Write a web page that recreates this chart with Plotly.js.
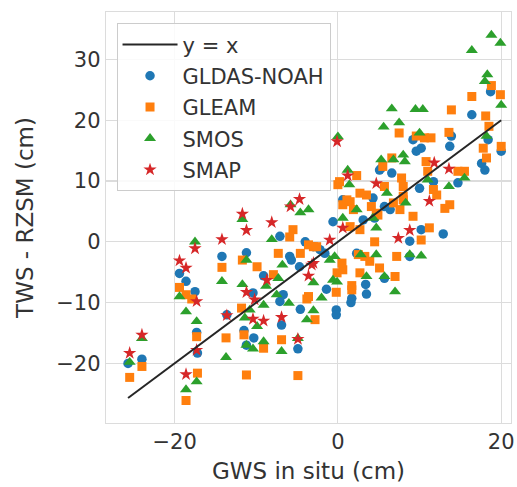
<!DOCTYPE html>
<html>
<head>
<meta charset="utf-8">
<script src="https://cdn.plot.ly/plotly-3.0.1.min.js"></script>
<style>html,body{margin:0;padding:0;background:#fff;}#chart{width:517px;height:487px;}</style>
</head>
<body>
<div id="chart"></div>
<script>
// GLDAS-NOAH (blue circles)
const gldasX = [-25.7,-24.0,-17.2,-17.3,-19.4,-18.6,-17.5,-14.2,-11.2,-13.6,-11.2,-11.5,-10.4,-10.3,-9.1,-7.1,-5.9,-5.7,-6.9,-4.9,-4.6,-7.1,-6.7,-4.7,-1.4,-0.2,-0.2,1.6,1.7,3.5,3.4,5.7,8.8,-4.0,-3.0,-2.2,-1.6,-0.6,0.6,3.1,2.3,4.5,6.4,5.7,4.3,5.1,5.3,6.6,10.0,11.7,14.7,10.2,8.8,12.9,9.2,10.2,9.6,13.9,13.7,16.4,17.6,18.0,18.4,18.7,20.0];
const gldasY = [-20.0,-19.3,-18.3,-14.9,-5.2,-6.5,-8.2,-2.4,-1.8,-12.0,-17.0,-14.6,-8.4,-15.8,-5.6,0.9,-2.4,-3.0,-13.7,-17.6,-11.1,-9.8,-8.7,-4.1,-7.8,-11.2,-12.0,-10.0,-9.3,-8.6,-7.0,-6.0,-2.4,0.0,-0.8,-1.3,-1.9,3.3,6.9,3.6,-1.9,3.9,5.3,5.8,7.2,11.8,12.1,11.3,8.8,9.9,9.7,2.0,0.1,1.3,16.8,15.4,14.9,17.4,15.7,20.9,12.9,11.8,16.8,24.7,14.9];

// GLEAM (orange squares)
const gleamX = [-25.5,-24.0,-18.6,-17.2,-17.3,-19.4,-18.6,-17.9,-14.2,-11.7,-13.7,-11.8,-11.5,-11.2,-9.1,-9.9,-7.9,-7.3,-5.5,-5.9,-4.6,-6.9,-4.9,-3.8,-3.6,-2.8,-0.2,1.7,1.7,-0.1,0.6,0.5,2.5,3.3,3.9,2.7,7.2,7.0,5.1,-3.0,-2.6,-3.6,1.5,2.7,1.5,1.9,0.6,1.1,2.7,3.5,0.0,0.2,2.3,4.7,4.1,4.9,4.5,6.8,7.6,8.0,8.0,9.2,5.7,5.5,6.6,7.8,8.0,10.8,11.0,11.7,12.1,13.1,13.7,11.2,10.2,14.7,15.5,18.2,17.8,20.0,13.6,13.9,16.4,18.1,18.5,18.8,19.9,7.5,9.6,10.6,11.4];
const gleamY = [-22.3,-20.5,-26.1,-21.6,-15.6,-7.5,-8.7,-9.4,-4.2,-3.0,-15.8,-10.9,-15.3,-21.9,-17.5,-4.1,-5.4,-1.9,2.0,0.8,-1.9,-16.1,-22.0,-9.4,-9.0,-12.8,-8.3,-7.9,-7.2,-5.1,-4.6,-3.5,-2.1,-2.4,-3.2,-5.1,-2.4,-5.7,-4.3,-0.8,-0.8,-0.5,2.5,2.0,6.6,5.3,6.1,6.9,8.0,7.7,9.4,9.9,10.9,4.7,5.8,4.4,0.0,6.4,5.3,7.5,6.9,4.2,9.1,12.4,13.8,10.5,9.1,13.2,11.6,8.6,7.7,5.5,6.1,2.3,0.3,11.6,11.6,13.8,15.4,15.7,18.0,21.7,23.9,20.7,19.0,25.7,24.2,17.9,17.4,17.1,17.1];

// SMOS (green triangles)
const smosX = [-25.5,-24.0,-18.6,-17.3,-17.3,-18.6,-19.4,-17.5,-14.2,-13.7,-11.7,-11.2,-11.7,-10.8,-11.4,-11.2,-10.4,-9.1,-9.9,-9.1,-8.8,-8.1,-7.3,-6.8,-7.5,-6.0,-6.9,-4.9,-3.8,-3.0,-2.0,-3.0,-0.1,-0.6,-0.4,-1.0,2.8,4.7,3.5,5.7,7.0,8.8,10.2,-5.8,-4.6,-3.6,0.6,2.3,4.3,4.7,1.2,1.4,0.0,6.0,8.3,11.0,13.6,15.5,5.3,6.8,8.0,8.2,5.6,6.6,7.5,9.5,10.4,10.0,16.4,18.8,19.9,18.3,18.0,20.0,18.2];
const smosY = [-19.8,-15.9,-24.3,-23.0,-13.1,-11.5,-9.0,0.0,-6.5,-19.0,3.7,-3.0,-7.0,-11.2,-12.5,-17.0,-17.6,-16.4,-13.9,-10.4,-7.3,0.4,-6.0,-3.8,-8.7,-10.1,-18.0,-15.9,-12.8,-11.3,-9.2,-6.7,-6.6,-6.3,-2.4,-3.0,-2.1,-2.1,-5.7,-5.7,-8.2,-2.1,-2.3,6.1,4.8,5.3,3.9,5.3,3.9,2.3,11.8,9.4,17.3,8.0,6.4,10.2,9.1,10.5,13.5,13.5,14.3,13.2,18.9,21.9,19.6,21.8,21.8,17.9,31.5,34.0,32.7,27.5,26.4,22.5,17.4];

// SMAP (red stars)
const smapX = [-25.5,-24.0,-18.6,-17.3,-17.3,-19.4,-18.6,-17.5,-14.2,-13.6,-11.7,-11.2,-11.2,-10.2,-10.4,-9.1,-8.7,-8.1,-6.9,-4.9,-4.7,-5.8,-3.2,-3.6,-3.0,-1.0,0.6,1.2,-0.1,4.7,7.4,8.8,11.2,11.8,13.6];
const smapY = [-18.3,-15.3,-21.8,-17.8,-9.8,-3.1,-4.3,-1.1,0.4,-12.1,4.6,1.9,-8.3,-9.5,-12.7,-13.0,-6.3,3.2,-12.4,-16.0,7.0,5.8,-3.8,-5.6,-3.5,0.3,2.3,10.9,16.5,9.6,0.6,1.9,6.7,13.0,12.0];

const seriesNames = ["GLDAS-NOAH", "GLEAM", "SMOS", "SMAP"];
const lineName = "y = x";
const xTicks = [-20, 0, 20];
const yTicks = [-20, -10, 0, 10, 20, 30];

const allX = gldasX.concat(gleamX, smosX, smapX);
const xMin = Math.min(...allX), xMax = Math.max(...allX);

const font = "DejaVu Sans, sans-serif";
const mk = (x, y, name, color, symbol, size, rank) => ({
  type: "scatter", mode: "markers", x: x, y: y, name: name,
  legendgroup: name, legendrank: rank,
  marker: {color: color, symbol: symbol, size: size, line: {width: 0}}
});

const traces = [
  mk(gldasX, gldasY, seriesNames[0], "#1f77b4", "circle", 9.5, 2),
  mk(gleamX, gleamY, seriesNames[1], "#ff7f0e", "square", 9, 3),
  mk(smosX, smosY, seriesNames[2], "#2ca02c", "triangle-up", 10.5, 4),
  mk(smapX, smapY, seriesNames[3], "#d62728", "star", 10, 5),
  {type: "scatter", mode: "lines", x: [xMin, xMax], y: [xMin, xMax], name: lineName,
   legendgroup: lineName, legendrank: 1, line: {color: "#262626", width: 2}}
];

const gridC = "#dcdcdc";
const layout = {
  width: 517, height: 487,
  margin: {l: 106, r: 6, t: 12, b: 64},
  paper_bgcolor: "#fff", plot_bgcolor: "#fff",
  font: {family: font, color: "#262626"},
  showlegend: true,
  legend: {
    x: 0.026, y: 0.9725, xanchor: "left", yanchor: "top",
    bgcolor: "rgba(255,255,255,0.85)", bordercolor: "#cccccc", borderwidth: 1,
    font: {size: 21, family: font, color: "#333333"},
    traceorder: "grouped", tracegroupgap: 1, itemwidth: 55
  },
  xaxis: {
    range: [-28.4, 21.2], tickmode: "array", tickvals: xTicks,
    showgrid: true, gridcolor: gridC, gridwidth: 1.2, zeroline: false,
    showline: true, mirror: true, linecolor: gridC, linewidth: 1.2,
    ticks: "", tickfont: {size: 21, family: font, color: "#333333"},
    title: {text: "GWS in situ (cm)", font: {size: 23, family: font, color: "#333333"}, standoff: 9},
    automargin: false
  },
  yaxis: {
    range: [-29.8, 37.8], tickmode: "array", tickvals: yTicks,
    showgrid: true, gridcolor: gridC, gridwidth: 1.2, zeroline: false,
    showline: true, mirror: true, linecolor: gridC, linewidth: 1.2,
    ticks: "", tickfont: {size: 21, family: font, color: "#333333"},
    title: {text: "TWS - RZSM (cm)", font: {size: 23, family: font, color: "#333333"}, standoff: 16},
    automargin: false
  }
};

Plotly.newPlot("chart", traces, layout, {displayModeBar: false, staticPlot: true});
</script>
</body>
</html>
